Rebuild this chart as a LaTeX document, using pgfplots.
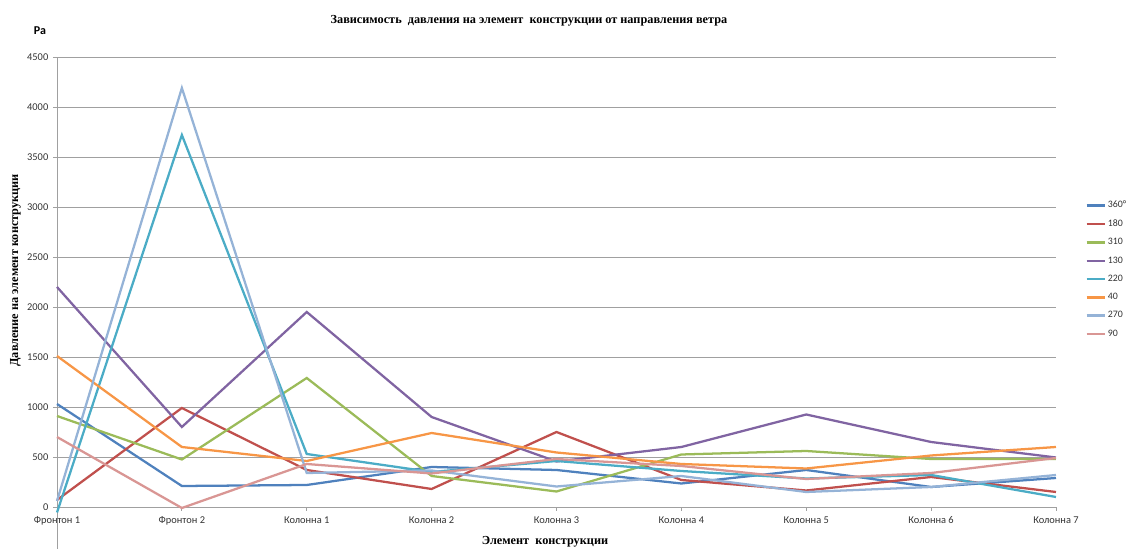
\documentclass[border=0pt]{standalone}
\usepackage{pgfplots}
\pgfplotsset{compat=1.18}
\usepackage{fontspec}
\setmainfont{Liberation Serif}
\newfontfamily\calibri{Carlito}

\definecolor{c360}{RGB}{79,129,189}
\definecolor{c180}{RGB}{192,80,77}
\definecolor{c310}{RGB}{155,187,89}
\definecolor{c130}{RGB}{128,100,162}
\definecolor{c220}{RGB}{75,172,198}
\definecolor{c40}{RGB}{247,150,70}
\definecolor{c270}{RGB}{149,179,215}
\definecolor{c90}{RGB}{217,150,148}
\definecolor{gridgray}{RGB}{160,160,160}

% Pressure on each structural element, one table per wind direction
\pgfplotstableread{
x y
0 1030
1 210
2 220
3 400
4 370
5 235
6 370
7 200
8 290
}\dirA
\pgfplotstableread{
x y
0 70
1 990
2 370
3 180
4 750
5 270
6 165
7 300
8 150
}\dirB
\pgfplotstableread{
x y
0 910
1 475
2 1290
3 310
4 155
5 525
6 560
7 480
8 480
}\dirC
\pgfplotstableread{
x y
0 2200
1 800
2 1950
3 900
4 455
5 600
6 925
7 650
8 495
}\dirD
\pgfplotstableread{
x y
0 -55
1 3720
2 530
3 350
4 460
5 360
6 285
7 320
8 100
}\dirE
\pgfplotstableread{
x y
0 1510
1 600
2 460
3 740
4 545
5 430
6 385
7 515
8 600
}\dirF
\pgfplotstableread{
x y
0 60
1 4190
2 340
3 365
4 205
5 310
6 150
7 200
8 320
}\dirG
\pgfplotstableread{
x y
0 700
1 -10
2 430
3 335
4 480
5 410
6 280
7 340
8 490
}\dirH

\begin{document}
\begin{tikzpicture}
\useasboundingbox (0,0) rectangle (846.75pt,411.75pt);
\begin{axis}[
  at={(42.75pt,0pt)}, anchor=south west,
  scale only axis,
  width=749.25pt, height=369pt,
  xmin=0, xmax=8, ymin=-420, ymax=4500,
  axis x line*=middle, axis y line*=left,
  hide obscured x ticks=false,
  axis line style={gridgray, line width=0.6pt},
  xtick={0,...,8},
  xticklabels={Фронтон 1,Фронтон 2,Колонна 1,Колонна 2,Колонна 3,Колонна 4,Колонна 5,Колонна 6,Колонна 7},
  ytick={0,500,...,4500},
  ymajorgrids, grid style={gridgray, line width=0.6pt},
  tick style={gridgray, line width=0.6pt},
  tick align=outside, major tick length=3pt,
  x tick label style={font=\calibri\fontsize{7.8}{9}\selectfont, text=black!80, yshift=-0.5pt},
  y tick label style={font=\calibri\fontsize{7.8}{9}\selectfont, text=black!80},
  /pgf/number format/assume math mode=true,
  /pgf/number format/set thousands separator={},
  clip=false,
  every axis plot/.append style={line width=1.7pt, mark=none},
  legend style={at={(1.029,0.713)}, anchor=north west, draw=none, fill=none,
    font=\calibri\fontsize{7.4}{8.5}\selectfont, text=black!80, row sep=3.4pt,
    inner sep=0pt, nodes={inner xsep=1pt}},
  legend cell align=left,
  legend image code/.code={\draw[#1, line width=1.9pt] (0pt,0pt) -- (14pt,0pt);},
]
\addplot[color=c360] table {\dirA};
\addplot[color=c180] table {\dirB};
\addplot[color=c310] table {\dirC};
\addplot[color=c130] table {\dirD};
\addplot[color=c220] table {\dirE};
\addplot[color=c40]  table {\dirF};
\addplot[color=c270] table {\dirG};
\addplot[color=c90]  table {\dirH};
\legend{360°,180,310,130,220,40,270,90}
\end{axis}
\node[font=\bfseries\fontsize{9.2}{11}\selectfont] at (396.75pt,396.5pt)
  {Зависимость\ \ давления на элемент\ \ конструкции от направления ветра};
\node[font=\calibri\bfseries\fontsize{9}{10}\selectfont] at (30pt,388.5pt) {Pa};
\node[font=\bfseries\fontsize{9.2}{11}\selectfont, rotate=90] at (11.5pt,209pt)
  {Давление на элемент конструкции};
\node[font=\bfseries\fontsize{9.2}{11}\selectfont] at (408.75pt,5.5pt)
  {Элемент\ \ конструкции};
\end{tikzpicture}
\end{document}
